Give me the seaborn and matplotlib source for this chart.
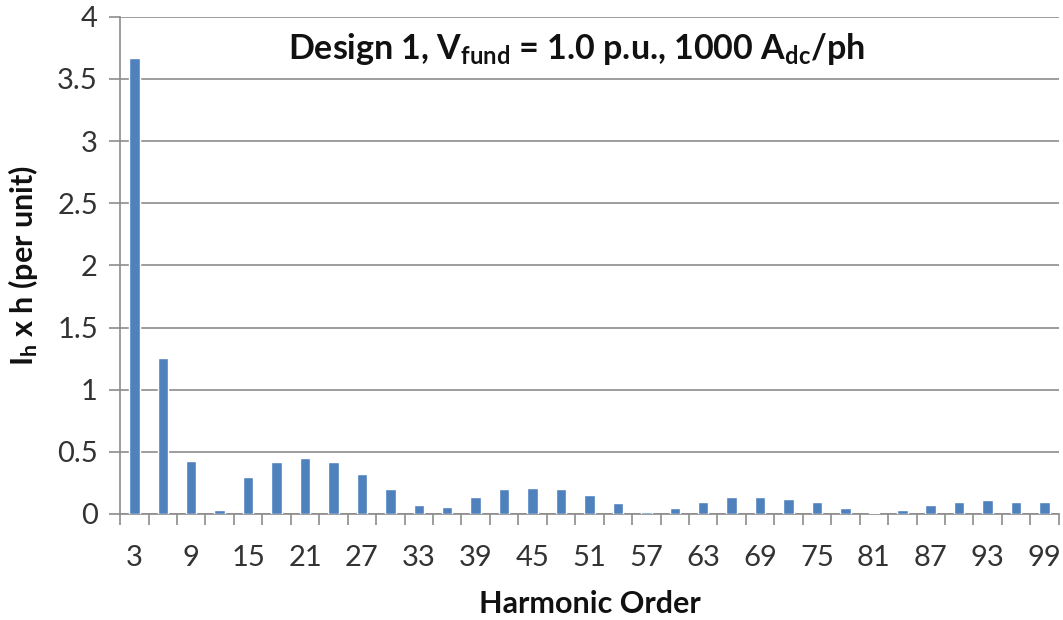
import matplotlib
matplotlib.use("Agg")
import matplotlib.pyplot as plt
import seaborn as sns
import pandas as pd
from matplotlib.ticker import FixedLocator

# Harmonic spectrum data (triplen harmonics 3..99)
harmonic_order = list(range(3, 100, 3))
ih_times_h = [3.667, 1.257, 0.430, 0.028, 0.296, 0.416, 0.453, 0.416, 0.321, 0.198,
              0.075, 0.053, 0.137, 0.198, 0.209, 0.198, 0.150, 0.085, 0.014, 0.049,
              0.098, 0.134, 0.134, 0.123, 0.098, 0.049, 0.011, 0.036, 0.074, 0.098,
              0.109, 0.098, 0.098]
y_ticks = [0, 0.5, 1, 1.5, 2, 2.5, 3, 3.5, 4]

sns.set_theme(style="white")
plt.rcParams["font.family"] = ["Lato", "DejaVu Sans"]
plt.rcParams["mathtext.fontset"] = "custom"
plt.rcParams["mathtext.rm"] = "Lato:bold"
plt.rcParams["mathtext.it"] = "Lato:bold"
plt.rcParams["mathtext.bf"] = "Lato:bold"

df = pd.DataFrame({"order": [str(h) for h in harmonic_order], "value": ih_times_h})

fig = plt.figure(figsize=(10.63, 6.2), dpi=100)
ax = fig.add_axes([0.113, 0.171, 0.883, 0.802])

grid_col = "#8C8C8C"
sns.barplot(data=df, x="order", y="value", order=df["order"], color="#4F81BD",
            saturation=1, width=0.37, ax=ax, zorder=3)

ax.set_ylim(0, 4)
ax.set_xlim(-0.5, len(harmonic_order) - 0.5)
ax.set_yticks(y_ticks)
ax.set_yticklabels([f"{t:g}" for t in y_ticks])
ax.yaxis.grid(True, color=grid_col, linewidth=1.2, zorder=0)
ax.set_axisbelow(True)

# x labels on every other category, tick marks at category boundaries
label_pos = list(range(0, len(harmonic_order), 2))
ax.set_xticks(label_pos)
ax.set_xticklabels([str(harmonic_order[i]) for i in label_pos])
ax.xaxis.set_minor_locator(FixedLocator([i - 0.5 for i in range(len(harmonic_order) + 1)]))
ax.tick_params(axis="x", which="major", length=0, pad=22, labelsize=21, colors="#333333")
ax.tick_params(axis="x", which="minor", length=8, width=1.2, color=grid_col, direction="out", bottom=True)
ax.tick_params(axis="y", which="major", length=8, width=1.2, color=grid_col, direction="out",
               left=True, pad=8, labelsize=21, labelcolor="#333333")

for side in ["top", "right"]:
    ax.spines[side].set_visible(False)
for side in ["left", "bottom"]:
    ax.spines[side].set_color(grid_col)
    ax.spines[side].set_linewidth(1.2)

ax.set_xlabel("Harmonic Order", fontsize=22, fontweight="bold", labelpad=14, color="#111111")
ax.set_ylabel(r"I$_{\mathrm{h}}$ x h (per unit)", fontsize=22, fontweight="bold", labelpad=12,
              color="#111111")
ax.text(0.486, 0.935, r"Design 1, V$_{\mathrm{fund}}$ = 1.0 p.u., 1000 A$_{\mathrm{dc}}$/ph",
        transform=ax.transAxes, ha="center", va="center", fontsize=24.5, fontweight="bold",
        color="#111111")

fig.savefig("out.png", dpi=100)
